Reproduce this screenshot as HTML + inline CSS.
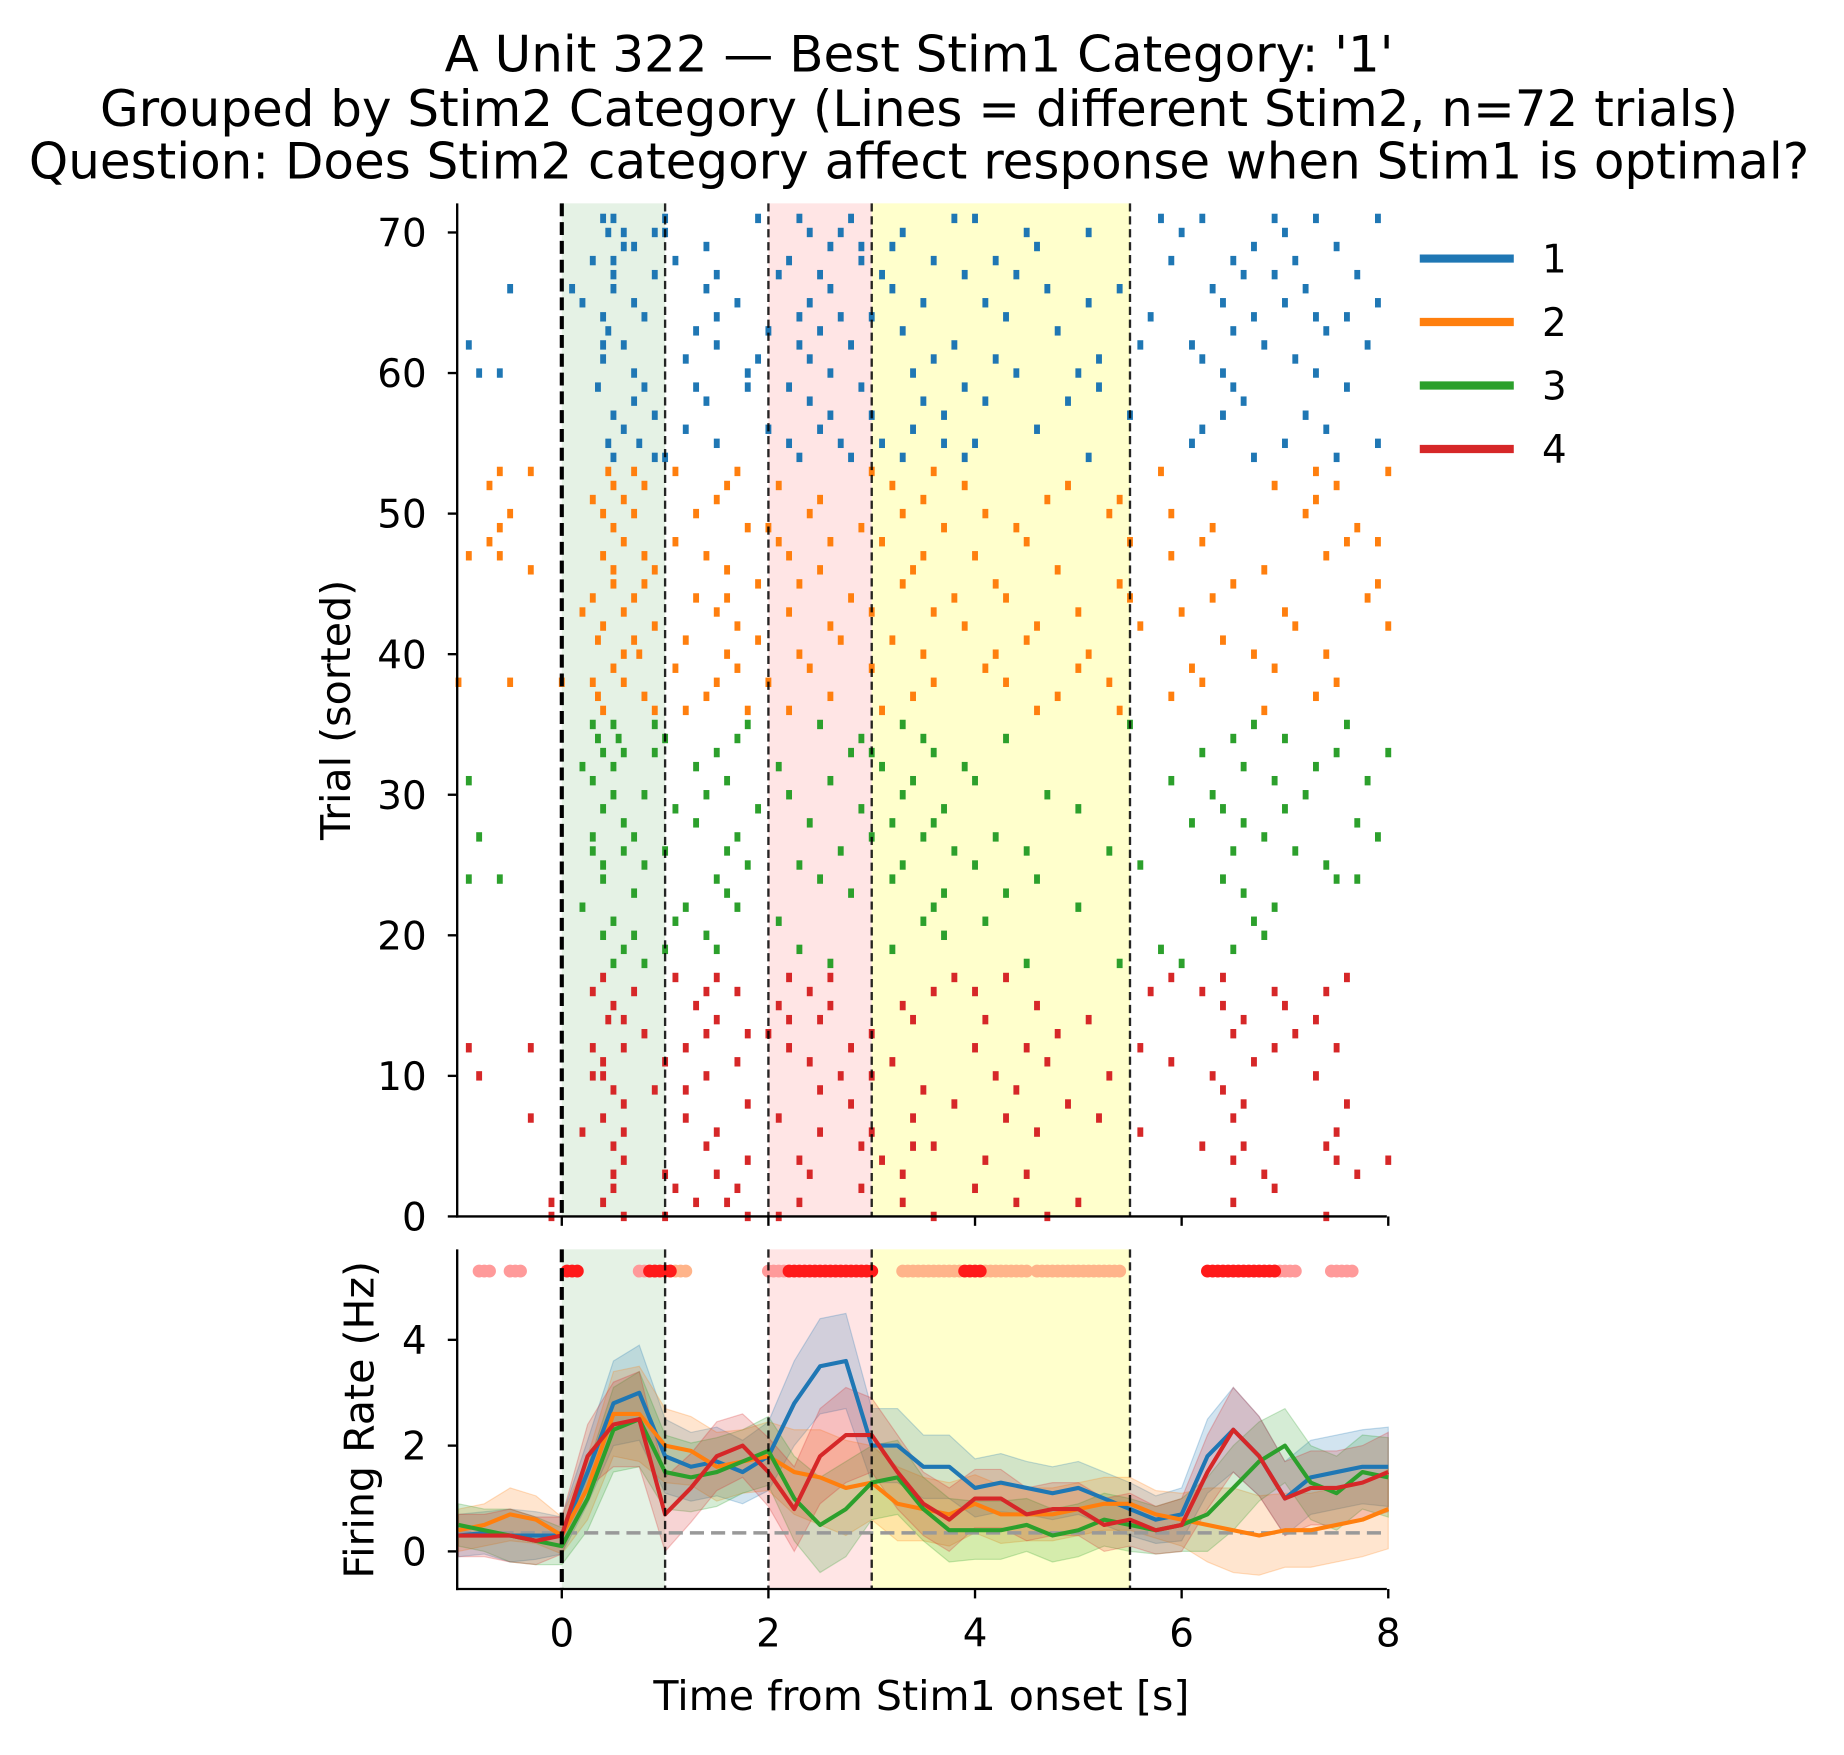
<!DOCTYPE html>
<html><head><meta charset="utf-8"><style>
body{margin:0;background:#fff}
svg text{font-family:"DejaVu Sans","Liberation Sans",sans-serif;fill:#000}
</style></head><body>
<svg id="c" width="1844" height="1750" viewBox="0 0 1844 1750" xmlns="http://www.w3.org/2000/svg">
<g transform="scale(1.1753)">
<text x="782" y="61" font-size="42.5" text-anchor="middle">A Unit 322 — Best Stim1 Category: '1'</text>
<text x="782" y="107" font-size="42.5" text-anchor="middle">Grouped by Stim2 Category (Lines = different Stim2, n=72 trials)</text>
<text x="782" y="152" font-size="42.5" text-anchor="middle">Question: Does Stim2 category affect response when Stim1 is optimal?</text>
<g id="raster"></g>
<g id="psth"></g>
<g id="legend"></g>
</g>
</svg>
<script>
const NS="http://www.w3.org/2000/svg";
const colors=["#1f77b4","#ff7f0e","#2ca02c","#d62728"];
const categories=["1","2","3","4"];
const spikes=[
[-0.1,0.6,1.0,1.8,2.1,3.6,4.7,7.4],
[-0.1,0.4,1.3,1.6,2.3,3.3,4.4,5.0,6.5],
[0.5,1.1,1.7,2.9,4.0,6.9],
[0.5,1.0,1.5,2.4,3.3,4.5,6.8,7.7],
[0.6,1.8,2.3,3.1,4.1,6.5,7.5,8.0],
[0.5,1.4,2.9,3.4,3.6,6.2,6.6,7.4],
[0.2,0.6,1.5,2.5,3.0,4.6,5.6,7.5],
[-0.3,0.4,1.2,2.1,3.4,4.3,5.2,6.5],
[0.6,1.8,2.8,3.8,4.9,6.6,7.6],
[0.5,0.9,1.2,2.5,3.5,4.4,6.4],
[-0.8,0.3,0.4,1.4,2.7,3.0,4.2,5.3,6.3,7.3],
[0.4,1.0,1.7,2.4,3.2,4.7,5.9,6.7],
[-0.9,-0.3,0.3,0.6,1.2,2.2,2.8,4.0,4.5,5.6,6.9,7.5],
[0.8,1.4,1.8,2.0,3.0,4.8,6.5,7.1],
[0.45,0.6,1.5,2.2,2.5,3.4,4.1,5.1,6.6,7.3],
[0.5,1.3,2.1,2.6,3.3,4.6,6.4,7.0],
[0.3,0.7,1.4,1.7,2.4,3.6,4.0,5.7,6.2,6.9,7.4],
[0.4,1.1,1.5,2.2,2.6,3.8,4.3,5.9,6.4,7.6],
[0.5,0.8,2.6,4.5,5.4,6.0],
[0.6,1.0,1.5,2.3,3.2,5.8,6.5],
[0.4,0.7,1.4,3.7,6.8],
[0.5,1.1,2.1,3.5,4.1,6.7],
[0.2,1.2,1.7,3.6,5.0,6.9],
[0.7,1.6,2.8,3.7,4.3,6.6],
[-0.9,-0.6,0.4,1.5,2.5,3.2,4.6,6.4,7.5,7.7],
[0.4,0.8,1.8,2.3,3.3,4.0,5.6,7.4],
[0.3,0.6,1.0,1.6,2.7,3.8,4.5,5.3,6.5,7.1],
[-0.8,0.3,0.7,1.7,3.0,3.5,4.2,6.8,7.9],
[0.6,1.3,2.4,3.2,3.6,6.1,6.6,7.7],
[0.4,1.1,1.9,2.9,3.7,5.0,6.4,7.0],
[0.5,0.8,1.4,2.2,3.3,4.7,6.3,7.2],
[-0.9,0.3,1.6,2.6,3.4,4.0,5.9,6.9,7.8],
[0.2,0.5,1.3,2.1,3.1,3.9,6.6,7.3],
[0.4,0.6,0.9,1.5,2.8,3.0,3.6,6.2,7.5,8.0],
[0.35,0.55,1.0,1.7,2.9,3.5,4.3,6.5,7.0],
[0.3,0.5,0.9,1.8,2.5,3.3,5.5,6.7,7.6],
[0.4,0.9,1.2,1.8,2.2,3.1,4.6,5.4,6.8],
[0.35,0.8,1.4,2.6,3.4,4.8,5.9,7.3],
[-1.0,-0.5,0.0,0.3,0.6,1.5,2.0,3.6,4.3,5.3,6.2,7.5],
[0.5,1.1,1.7,2.4,3.0,4.1,5.0,6.1,6.9],
[0.6,0.75,1.6,2.3,3.5,4.2,5.1,6.7,7.4],
[0.35,0.7,1.2,1.9,2.7,3.2,4.5,6.4],
[0.4,0.9,1.7,2.6,3.9,4.6,5.6,7.1,8.0],
[0.2,0.6,1.5,2.2,3.0,3.6,5.0,6.0,7.0],
[0.3,0.7,1.3,1.6,2.8,3.8,4.3,5.5,6.3,7.8],
[0.5,0.8,1.9,2.3,3.3,4.2,5.4,6.5,7.9],
[-0.3,0.5,0.9,1.6,2.5,3.4,4.8,6.8],
[-0.9,-0.6,0.4,0.8,1.4,2.2,3.5,4.0,5.9,7.4],
[-0.7,0.6,1.1,2.1,2.6,3.1,4.5,5.5,6.2,7.6,7.9],
[-0.6,0.5,1.8,2.0,2.9,3.7,4.4,6.3,7.7],
[-0.5,0.4,0.7,1.3,2.4,3.3,4.1,5.3,5.9,7.2],
[0.3,0.6,1.5,2.5,3.5,4.7,5.4,7.3],
[-0.7,0.5,0.8,1.6,2.1,3.2,3.9,4.9,6.9,7.5],
[-0.6,-0.3,0.45,0.7,1.1,1.7,3.0,3.6,5.8,7.3,8.0],
[0.5,0.9,1.0,2.3,2.8,3.3,3.9,5.1,6.7,7.5],
[0.45,0.75,1.5,2.2,2.7,3.1,3.7,4.0,6.1,7.0,7.9],
[0.6,1.2,2.0,2.5,3.4,4.6,6.2,7.4],
[0.5,0.9,2.6,3.0,3.7,5.5,6.4,7.2],
[0.7,1.4,2.4,3.5,4.1,4.9,6.6],
[0.35,0.8,1.3,1.8,2.2,2.9,3.9,5.2,6.5,7.6],
[-0.8,-0.6,0.7,1.8,2.6,3.4,4.4,5.0,6.4,7.3],
[0.4,1.2,1.9,2.4,3.6,4.2,5.2,6.2,7.1],
[-0.9,0.4,0.6,1.5,2.3,2.8,3.8,5.6,6.1,6.8,7.8],
[0.45,1.3,2.0,2.5,3.3,4.8,6.5,7.4],
[0.4,0.8,1.5,2.3,2.7,3.0,4.3,5.7,6.7,7.3,7.6],
[0.2,0.7,1.7,2.4,3.5,4.1,5.1,6.4,7.0,7.9],
[-0.5,0.1,0.5,1.4,2.6,3.2,4.7,5.4,6.3,7.2],
[0.5,0.9,1.5,2.1,2.5,3.1,3.9,4.4,6.6,6.9,7.7],
[0.3,0.5,1.1,2.2,2.9,3.6,4.2,5.9,6.5,7.1],
[0.6,0.7,1.4,2.6,2.9,3.2,4.6,6.7,7.5],
[0.45,0.6,0.9,1.0,2.4,2.7,3.3,4.5,5.1,6.0,7.0],
[0.4,0.5,1.0,1.9,2.3,2.8,3.8,4.0,5.8,6.2,6.9,7.3,7.9]
];
const trialCategory=[];
for(let t=0;t<72;t++) trialCategory.push(3-Math.floor(t/18));
const psthTimes=[-1,-0.75,-0.5,-0.25,0,0.25,0.5,0.75,1,1.25,1.5,1.75,2,2.25,2.5,2.75,3,3.25,3.5,3.75,4,4.25,4.5,4.75,5,5.25,5.5,5.75,6,6.25,6.5,6.75,7,7.25,7.5,7.75,8];
const rate1=[0.3,0.35,0.3,0.3,0.3,1.5,2.8,3.0,1.8,1.6,1.7,1.5,1.8,2.8,3.5,3.6,2.0,2.0,1.6,1.6,1.2,1.3,1.2,1.1,1.2,1.0,0.8,0.6,0.7,1.8,2.3,1.8,1.0,1.4,1.5,1.6,1.6];
const rate2=[0.4,0.5,0.7,0.6,0.3,1.2,2.6,2.6,2.0,1.9,1.6,1.7,1.8,1.5,1.4,1.2,1.3,0.9,0.8,0.7,0.9,0.7,0.7,0.7,0.8,0.9,0.9,0.7,0.6,0.5,0.4,0.3,0.4,0.4,0.5,0.6,0.8];
const rate3=[0.5,0.4,0.3,0.2,0.1,1.0,2.3,2.5,1.5,1.4,1.5,1.7,1.9,1.0,0.5,0.8,1.3,1.4,0.8,0.4,0.4,0.4,0.5,0.3,0.4,0.6,0.5,0.4,0.5,0.7,1.2,1.7,2.0,1.3,1.1,1.5,1.4];
const rate4=[0.3,0.3,0.3,0.2,0.3,1.8,2.4,2.5,0.7,1.2,1.8,2.0,1.5,0.8,1.8,2.2,2.2,1.5,0.9,0.6,1.0,1.0,0.7,0.8,0.8,0.5,0.6,0.4,0.5,1.5,2.3,1.8,1.0,1.2,1.2,1.3,1.5];
const semVals=[0.4,0.4,0.5,0.45,0.35,0.6,0.8,0.9,0.7,0.65,0.65,0.6,0.65,0.8,0.9,0.9,0.7,0.7,0.6,0.6,0.55,0.55,0.5,0.5,0.5,0.5,0.5,0.45,0.5,0.7,0.8,0.75,0.7,0.7,0.7,0.7,0.75];
const baseline=0.35;
const sigRed=[[0.05,0.15],[0.85,1.05],[2.2,3.0],[3.9,4.05],[6.25,6.9]];
const sigPeach=[[1.05,1.2],[3.3,3.85],[4.1,4.5],[4.6,5.4]];
const sigLight=[[-0.8,-0.7],[-0.5,-0.4],[0.75,0.9],[2.0,2.2],[6.9,7.1],[7.45,7.65]];
const xTicks=[0,2,4,6,8];
const rasterYTicks=[0,10,20,30,40,50,60,70];
const psthYTicks=[0,2,4];

const X=t=>478+(t)*87.9;
const RY=v=>1035-v*11.96;
const PY=v=>1320-v*45;
const L=389,R=1180;

function el(tag,attrs,parent){const e=document.createElementNS(NS,tag);for(const k in attrs)e.setAttribute(k,attrs[k]);parent.appendChild(e);return e;}
const rg=document.getElementById('raster'), pg=document.getElementById('psth'), lg=document.getElementById('legend');

function regions(g,top,bot){
  let r;
  r=el('rect',{x:X(0),y:top,width:X(1)-X(0),height:bot-top,fill:'green','fill-opacity':0.1},g);
  
  r=el('rect',{x:X(2),y:top,width:X(3)-X(2),height:bot-top,fill:'red','fill-opacity':0.1},g);
  
  r=el('rect',{x:X(3),y:top,width:X(5.5)-X(3),height:bot-top,fill:'yellow','fill-opacity':0.2},g);
  
}
function vlines(g,top,bot){
  let l=el('line',{x1:X(0),x2:X(0),y1:top,y2:bot,stroke:'#000','stroke-width':3.5,'stroke-dasharray':'11 5'},g);
  
  [1,2,3,5.5].forEach(t=>{const v=el('line',{x1:X(t),x2:X(t),y1:top,y2:bot,stroke:'#000','stroke-width':2,'stroke-dasharray':'7 4','stroke-opacity':0.85},g);
  });
}
regions(rg,173,1035);
spikes.forEach((arr,t)=>{arr.forEach(s=>{
  const m=el('rect',{x:X(s)-2.5,y:RY(t)-4,width:5,height:8,fill:colors[trialCategory[t]]},rg);
  
});});
vlines(rg,173,1035);
el('line',{x1:L,x2:L,y1:173,y2:1036,stroke:'#000','stroke-width':2},rg);
el('line',{x1:L-1,x2:R,y1:1035,y2:1035,stroke:'#000','stroke-width':2},rg);
rasterYTicks.forEach(v=>{
  el('line',{x1:L-8,x2:L,y1:RY(v),y2:RY(v),stroke:'#000','stroke-width':2},rg);
  const tx=el('text',{x:L-26,y:RY(v)+12,'font-size':33,'text-anchor':'end'},rg);tx.textContent=v;
  
});
xTicks.forEach(v=>el('line',{x1:X(v),x2:X(v),y1:1035,y2:1043,stroke:'#000','stroke-width':2},rg));
let yl=el('text',{x:0,y:0,'font-size':35,'text-anchor':'middle',transform:'translate(298,604) rotate(-90)'},rg);
yl.textContent='Trial (sorted)';

regions(pg,1063,1352);
const rates=[rate1,rate2,rate3,rate4];
const names=['psth-band-1','psth-band-2','psth-band-3','psth-band-4'];
rates.forEach((r,i)=>{
  let up=psthTimes.map((t,j)=>X(t)+','+PY(r[j]+semVals[j])).join(' ');
  let dn=psthTimes.map((t,j)=>X(t)+','+PY(r[j]-semVals[j])).reverse().join(' ');
  const p=el('polygon',{points:up+' '+dn,fill:colors[i],'fill-opacity':0.2,stroke:colors[i],'stroke-opacity':0.25},pg);
  
});
let bl=el('line',{x1:L,x2:R,y1:PY(baseline),y2:PY(baseline),stroke:'#999','stroke-width':3,'stroke-dasharray':'12 6'},pg);

rates.forEach((r,i)=>{
  const pl=el('polyline',{points:psthTimes.map((t,j)=>X(t)+','+PY(r[j])).join(' '),fill:'none',stroke:colors[i],'stroke-width':3.5,'stroke-linejoin':'round'},pg);
  
});
function dots(ranges,color){ranges.forEach(([a,b])=>{for(let t=a;t<=b+1e-6;t+=0.05){
  const c=el('circle',{cx:X(t),cy:PY(5.3),r:5.5,fill:color},pg);
  }});}
dots(sigLight,'#ff9a9a');dots(sigPeach,'#ffb48a');dots(sigRed,'#ff1a1a');
vlines(pg,1063,1352);
el('line',{x1:L,x2:L,y1:1063,y2:1353,stroke:'#000','stroke-width':2},pg);
el('line',{x1:L-1,x2:R,y1:1352,y2:1352,stroke:'#000','stroke-width':2},pg);
psthYTicks.forEach(v=>{
  el('line',{x1:L-8,x2:L,y1:PY(v),y2:PY(v),stroke:'#000','stroke-width':2},pg);
  const tx=el('text',{x:L-26,y:PY(v)+12,'font-size':33,'text-anchor':'end'},pg);tx.textContent=v;
  
});
xTicks.forEach(v=>{
  el('line',{x1:X(v),x2:X(v),y1:1352,y2:1360,stroke:'#000','stroke-width':2},pg);
  const tx=el('text',{x:X(v),y:1401,'font-size':33,'text-anchor':'middle'},pg);tx.textContent=v;
  
});
yl=el('text',{x:0,y:0,'font-size':35,'text-anchor':'middle',transform:'translate(318,1208) rotate(-90)'},pg);
yl.textContent='Firing Rate (Hz)';
let xl=el('text',{x:784,y:1455,'font-size':35,'text-anchor':'middle'},pg);
xl.textContent='Time from Stim1 onset [s]';

categories.forEach((c,i)=>{
  const y=220+i*54;
  const ln=el('line',{x1:1208,x2:1288,y1:y,y2:y,stroke:colors[i],'stroke-width':7},lg);
  
  const tx=el('text',{x:1312,y:y+12,'font-size':33},lg);tx.textContent=c;
  
});
</script>
</body></html>
